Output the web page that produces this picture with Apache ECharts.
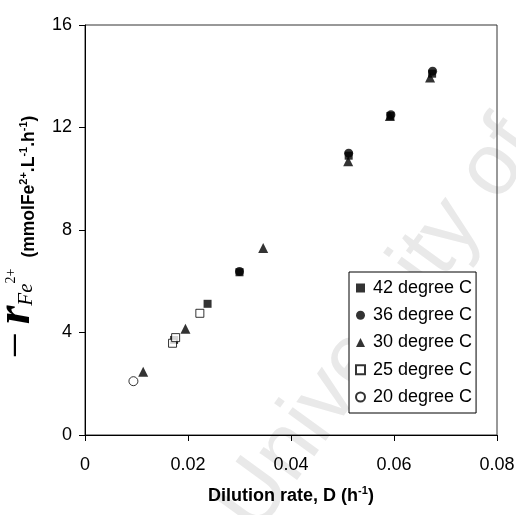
<!DOCTYPE html>
<html>
<head>
<meta charset="utf-8">
<script src="https://cdn.jsdelivr.net/npm/echarts@6/dist/echarts.min.js"></script>
<style>
  html, body { margin: 0; padding: 0; background: #fff; }
  #chart { width: 516px; height: 515px; }
</style>
</head>
<body>
<div id="chart"></div>
<script>
// 各温度下的稀释率 D 与 Fe2+ 氧化速率
const seriesNames = ['42 degree C', '36 degree C', '30 degree C', '25 degree C', '20 degree C']
const d42 = [0.0173, 0.0238, 0.0300, 0.0512, 0.0593, 0.0674]
const r42 = [3.71, 5.12, 6.35, 10.9, 12.45, 14.1]
const d36 = [0.0300, 0.0512, 0.0594, 0.0675]
const r36 = [6.38, 11.0, 12.5, 14.2]
const d30 = [0.0113, 0.0195, 0.0346, 0.0511, 0.0592, 0.0670]
const r30 = [2.47, 4.15, 7.3, 10.68, 12.45, 13.95]
const d25 = [0.0170, 0.0176, 0.0223]
const r25 = [3.58, 3.8, 4.75]
const d20 = [0.0094]
const r20 = [2.1]
const xTicks = [0, 0.02, 0.04, 0.06, 0.08]
const yTicks = [0, 4, 8, 12, 16]

const SANS = 'Liberation Sans, Arial, sans-serif'
const SERIF = 'Liberation Serif, Times New Roman, serif'

function pairs(xs, ys) {
  return xs.map((x, i) => [x, ys[i]])
}

const chart = echarts.init(document.getElementById('chart'))

const filled = { color: '#000' }
const hollow = { color: '#fff', borderColor: '#000', borderWidth: 1 }

chart.setOption({
  animation: false,
  backgroundColor: '#fff',
  textStyle: { fontFamily: SANS },
  graphic: [
    {
      type: 'text',
      x: 272,
      y: 548,
      rotation: 54 * Math.PI / 180,
      z: -10,
      silent: true,
      style: {
        text: 'University of Cape Town',
        font: '88px ' + SANS,
        fill: '#e9e9e9',
        textVerticalAlign: 'bottom'
      }
    }
  ],
  grid: {
    left: 85,
    right: 19,
    top: 25,
    bottom: 80,
    containLabel: false,
    outerBoundsMode: 'none',
    show: true,
    borderColor: '#333',
    borderWidth: 1,
    backgroundColor: 'transparent'
  },
  legend: {
    orient: 'vertical',
    left: 349,
    top: 272,
    padding: [7, 4, 7, 6],
    itemGap: 9.25,
    itemWidth: 9,
    itemHeight: 9,
    borderColor: '#000',
    borderWidth: 1,
    backgroundColor: '#fff',
    data: seriesNames,
    textStyle: {
      fontFamily: SANS,
      fontSize: 18,
      lineHeight: 18,
      color: '#000',
      padding: [0, 0, 0, 3]
    }
  },
  xAxis: {
    type: 'value',
    min: xTicks[0],
    max: xTicks[xTicks.length - 1],
    interval: 0.02,
    name: 'Dilution rate, D (h{sup|-1})',
    nameLocation: 'middle',
    nameGap: 50,
    nameTextStyle: {
      fontFamily: SANS,
      fontSize: 18,
      fontWeight: 'bold',
      color: '#000',
      rich: {
        sup: { fontSize: 11, fontWeight: 'bold', fontFamily: SANS, color: '#000', padding: [0, 0, 11, 0] }
      }
    },
    axisLine: { lineStyle: { color: '#000', width: 1 } },
    axisTick: { length: 6, lineStyle: { color: '#000' } },
    axisLabel: { fontSize: 18, color: '#000', margin: 21, fontFamily: SANS },
    splitLine: { show: false }
  },
  yAxis: {
    type: 'value',
    min: yTicks[0],
    max: yTicks[yTicks.length - 1],
    interval: 4,
    name: '{dash|—}{r|r}{fe|Fe}{fs|2+}{b|(mmolFe}{bs|2+}{b|.L}{bs|-1}{b|.h}{bs|-1}{end|)}',
    nameLocation: 'middle',
    nameRotate: 90,
    nameGap: 38,
    nameTextStyle: {
      fontFamily: SANS,
      fontSize: 18,
      color: '#000',
      rich: {
        dash: { fontFamily: SANS, fontSize: 22, fontWeight: 'bold', color: '#000', padding: [0, 10, 4, 0] },
        r: { fontFamily: SERIF, fontSize: 48, fontStyle: 'italic', fontWeight: 'bold', color: '#000' },
        fe: { fontFamily: SERIF, fontSize: 21, fontStyle: 'italic', color: '#000', padding: [19, 0, 0, 0] },
        fs: { fontFamily: SERIF, fontSize: 14, color: '#000', padding: [0, 11, 11, 0] },
        b: { fontFamily: SANS, fontSize: 17.5, fontWeight: 'bold', color: '#000', padding: [25, 0, 0, 0] },
        bs: { fontFamily: SANS, fontSize: 11, fontWeight: 'bold', color: '#000', padding: [13, 0, 0, 0] },
        end: { fontFamily: SANS, fontSize: 17.5, fontWeight: 'bold', color: '#000', padding: [25, 12, 0, 0] }
      }
    },
    axisLine: { show: true, lineStyle: { color: '#000', width: 1 } },
    axisTick: { show: true, length: 6, lineStyle: { color: '#000' } },
    axisLabel: { fontSize: 18, color: '#000', margin: 13, fontFamily: SANS },
    splitLine: { show: false }
  },
  series: [
    { name: seriesNames[0], type: 'scatter', symbol: 'rect', symbolSize: 8, itemStyle: filled, data: pairs(d42, r42) },
    { name: seriesNames[1], type: 'scatter', symbol: 'circle', symbolSize: 9, itemStyle: filled, data: pairs(d36, r36) },
    { name: seriesNames[2], type: 'scatter', symbol: 'triangle', symbolSize: 10, itemStyle: filled, data: pairs(d30, r30) },
    { name: seriesNames[3], type: 'scatter', symbol: 'rect', symbolSize: 8, itemStyle: hollow, data: pairs(d25, r25) },
    { name: seriesNames[4], type: 'scatter', symbol: 'circle', symbolSize: 9, itemStyle: hollow, data: pairs(d20, r20) }
  ]
})
</script>
</body>
</html>
